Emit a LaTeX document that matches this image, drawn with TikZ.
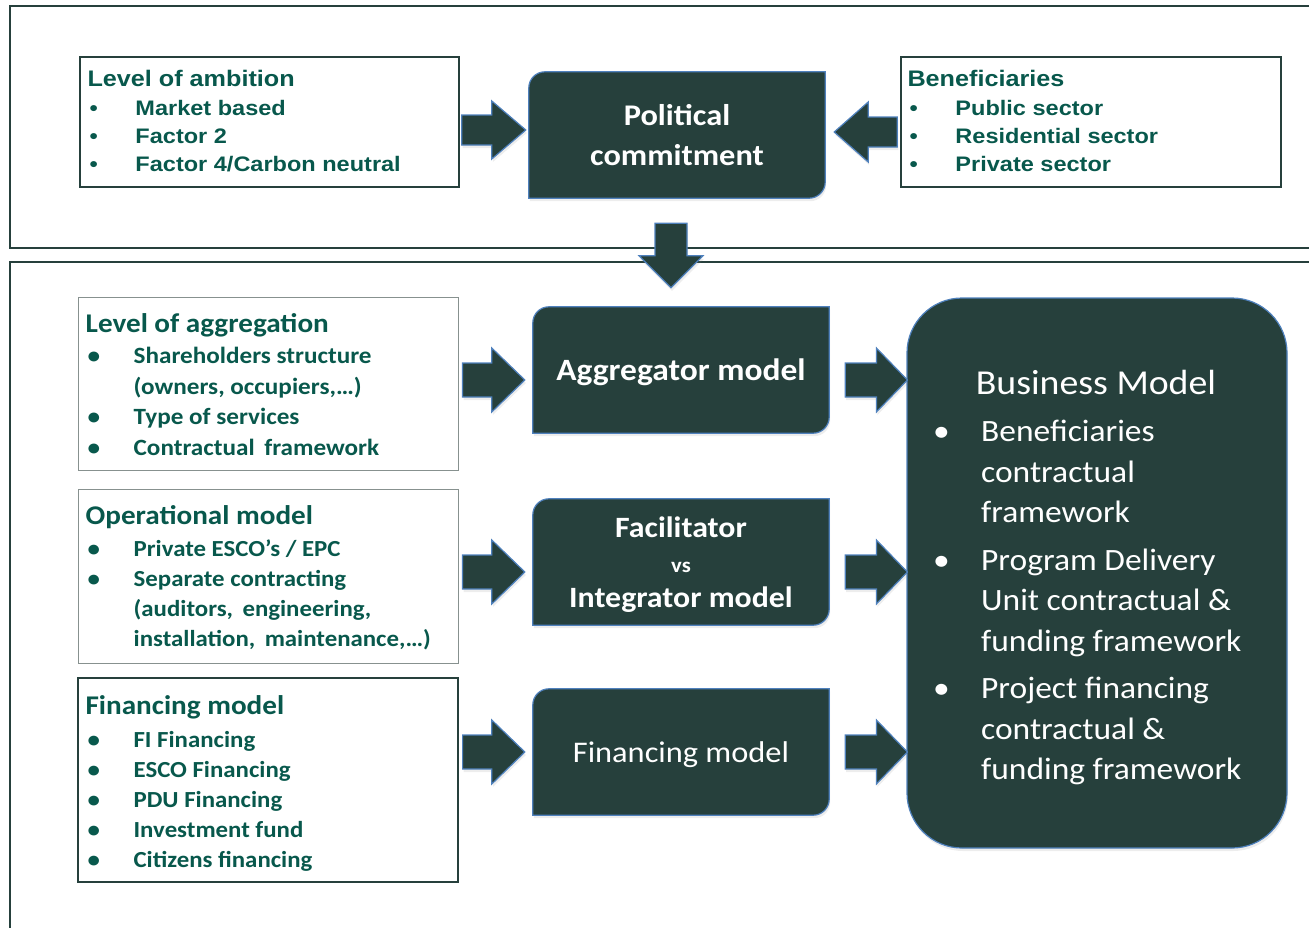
\documentclass[tikz,border=0pt]{standalone}
\usepackage{fontspec}
\setmainfont{Carlito}[FakeStretch=1.08]
\newfontfamily\arialfont{Liberation Sans}[FakeStretch=1.12]
\usetikzlibrary{calc,backgrounds,shadows}
\definecolor{dk}{RGB}{38,64,60}
\definecolor{bl}{RGB}{79,129,189}
\definecolor{tealtx}{RGB}{8,88,76}
\definecolor{frm}{RGB}{38,64,60}
\definecolor{gbord}{RGB}{135,145,143}
\newcommand{\itm}[1]{\hspace*{2pt}\makebox[46pt][l]{\textbullet}#1}
\newcommand{\itmT}[1]{\hspace*{2pt}\makebox[46pt][l]{\textbullet}#1}
\newcommand{\bitm}[1]{\hspace*{-3pt}\makebox[48pt][l]{\textbullet}#1}
\newcommand{\bcont}[1]{\hspace*{45pt}#1}
\newcommand{\darkshape}[2]{%
  \filldraw[dshape] (#1.south west) -- ($(#1.north west)+(0,#2)$)
    .. controls ($(#1.north west)+(0,0.45*#2)$) and ($(#1.north west)+(0.45*#2,0)$) .. ($(#1.north west)+(#2,0)$)
    -- (#1.north east) -- ($(#1.south east)+(0,-#2)$)
    .. controls ($(#1.south east)+(0,-0.45*#2)$) and ($(#1.south east)+(-0.45*#2,0)$) .. ($(#1.south east)+(-#2,0)$)
    -- cycle;}
\newcommand{\barr}[5]{%
  \coordinate (bs) at (#1);
  \coordinate (bt) at (#2);
  \coordinate (bh) at ($(bt)!#5!(bs)$);
  \filldraw[barrow] ($(bs)!#3!90:(bt)$) -- ($(bh)!#3!-90:(bs)$) -- ($(bh)!#4!-90:(bs)$) -- (bt)
    -- ($(bh)!#4!90:(bs)$) -- ($(bh)!#3!90:(bs)$) -- ($(bs)!#3!-90:(bt)$) -- cycle;}
\tikzset{
  outerframe/.style={draw=frm, line width=2pt},
  lbox/.style={draw=frm, line width=1.4pt, inner sep=0pt},
  gbox/.style={draw=gbord, line width=1pt, inner sep=0pt},
  ltext/.style={text=tealtx, align=left, anchor=north west, inner sep=0pt, font=\bfseries\fontsize{23}{30}\selectfont},
  ttext/.style={text=tealtx, align=left, anchor=north west, inner sep=0pt, font=\arialfont\bfseries\fontsize{21}{28}\selectfont},
  dbox/.style={text=white, align=center, minimum width=296pt, minimum height=126pt, inner sep=0pt},
  softshadow/.style={drop shadow={opacity=0.14, shadow xshift=1pt, shadow yshift=-3pt}},
  dshape/.style={fill=dk, draw=bl, line width=1.2pt, softshadow},
  barrow/.style={fill=dk, draw=bl, line width=1.2pt, line join=miter, softshadow},
}
\begin{document}
\begin{tikzpicture}[x=1pt,y=-1pt]
\useasboundingbox (0,0) rectangle (1309,927);
% frames
\draw[outerframe] (10,6) rectangle (1340,248);
\draw[outerframe] (10,262) rectangle (1340,960);

% top boxes
\node[lbox, minimum width=379pt, minimum height=130pt] (amb) at (269.5,122) {};
\node[ttext] (ambT) at ($(amb.north west)+(8,14)$) {{\fontsize{22.5}{28}\selectfont Level of ambition}\\[0.5pt]\itmT{Market based}\\\itmT{Factor 2}\\\itmT{Factor 4/Carbon neutral}};
\node[lbox, minimum width=380pt, minimum height=130pt] (ben) at (1091,122) {};
\node[ttext] (benT) at ($(ben.north west)+(7,14)$) {{\fontsize{22.5}{28}\selectfont Beneficiaries}\\[0.5pt]\itmT{Public sector}\\\itmT{Residential sector}\\\itmT{Private sector}};

% bottom-left boxes
\node[gbox, minimum width=380pt, minimum height=173pt] (aggbox) at (268,383.5) {};
\node[ltext, font=\bfseries\fontsize{23.3}{30.6}\selectfont] (aggT) at ($(aggbox.north west)+(8,16.5)$) {{\fontsize{27}{30}\selectfont Level of aggregation}\\[1pt]\itm{Shareholders structure}\\\hspace*{48pt}(owners, occupiers,…)\\\itm{Type of services}\\\itm{Contractual\ \,framework}};
\node[gbox, minimum width=380pt, minimum height=174pt] (opbox) at (268,576) {};
\node[ltext] (opT) at ($(opbox.north west)+(8,16.5)$) {{\fontsize{27}{30}\selectfont Operational model}\\[2pt]\itm{Private ESCO’s / EPC}\\\itm{Separate contracting}\\\hspace*{48pt}(auditors,\ \,engineering,\\\hspace*{48pt}installation,\ \,maintenance,…)};
\node[lbox, line width=1.2pt, minimum width=380pt, minimum height=204pt] (finbox) at (268,780) {};
\node[ltext] (finT) at ($(finbox.north west)+(8,17.5)$) {{\fontsize{27}{30}\selectfont Financing model}\\[3pt]\itm{FI Financing}\\\itm{ESCO Financing}\\\itm{PDU Financing}\\\itm{Investment fund}\\\itm{Citizens financing}};

% dark boxes
\node[dbox, font=\bfseries\fontsize{30}{40}\selectfont] (pol) at (677,135) {Political\\commitment};
\node[dbox, text depth=0pt, font=\bfseries\fontsize{31}{36}\selectfont] (agg) at (681,370) {Aggregator model};
\node[dbox, text depth=0pt, font=\bfseries\fontsize{29.5}{35}\selectfont] (fac) at (681,562) {Facilitator\\{\fontsize{21}{35}\selectfont vs}\\Integrator model};
\node[dbox, text depth=0pt, font=\fontsize{30}{36}\selectfont] (fin) at (681,752) {Financing model};
\begin{scope}[on background layer]
  \darkshape{pol}{16}
  \darkshape{agg}{16}
  \darkshape{fac}{16}
  \darkshape{fin}{16}
\end{scope}

% business model
\node[fill=dk, draw=bl, line width=1.2pt, rounded corners=55pt, softshadow, minimum width=380pt, minimum height=550pt] (bm) at (1097,573) {};
\node[text=white, inner sep=0pt, font=\fontsize{35}{40}\selectfont] (bmT) at (1096,382) {Business Model};
\node[text=white, align=left, anchor=north west, inner sep=0pt, font=\fontsize{31}{40.5}\selectfont] (bmI) at (936,420) {\bitm{Beneficiaries}\\\bcont{contractual}\\\bcont{framework}\\[7pt]\bitm{Program Delivery}\\\bcont{Unit contractual \&}\\\bcont{funding framework}\\[7pt]\bitm{Project financing}\\\bcont{contractual \&}\\\bcont{funding framework}};

% block arrows
\barr{$(amb.east |- pol.west)+(2,-5)$}{$(pol.west)+(-3,-5)$}{15pt}{29pt}{34pt}
\barr{$(ben.west |- pol.east)+(-3,-3)$}{$(pol.east)+(9,-3)$}{15pt}{30pt}{34pt}
\barr{$(pol.south)+(-6,25)$}{$(agg.north)+(-10,-19)$}{16pt}{32pt}{32pt}
\barr{$(aggbox.east |- agg.west)+(4,10)$}{$(agg.west)+(-8,10)$}{17pt}{32pt}{33pt}
\barr{$(agg.east)+(16,10)$}{$(bm.west |- agg.east)+(1,10)$}{17pt}{32pt}{31pt}
\barr{$(opbox.east |- fac.west)+(4,10)$}{$(fac.west)+(-8,10)$}{17pt}{32pt}{33pt}
\barr{$(fac.east)+(16,10)$}{$(bm.west |- fac.east)+(1,10)$}{17pt}{32pt}{31pt}
\barr{$(finbox.east |- fin.west)+(4,0)$}{$(fin.west)+(-8,0)$}{17pt}{32pt}{33pt}
\barr{$(fin.east)+(16,0)$}{$(bm.west |- fin.east)+(1,0)$}{17pt}{32pt}{31pt}
\end{tikzpicture}
\end{document}
